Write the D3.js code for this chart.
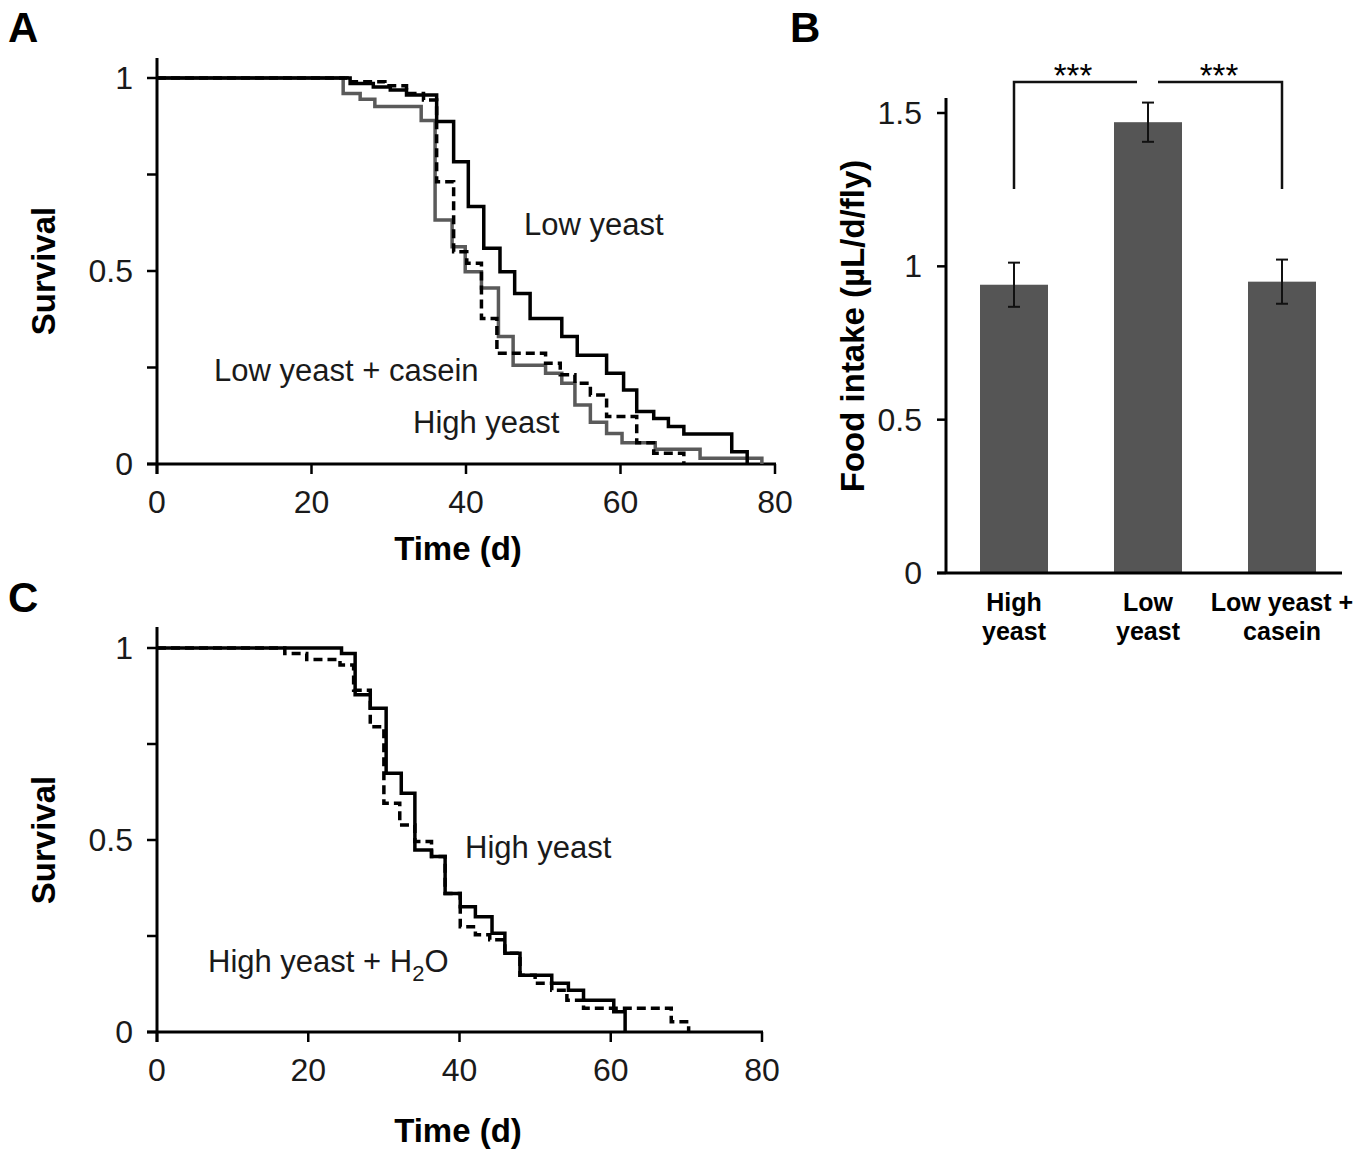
<!DOCTYPE html>
<html>
<head>
<meta charset="utf-8">
<script src="https://cdn.jsdelivr.net/npm/d3@7"></script>
<style>
  body { margin: 0; background: #fff; }
  svg text { font-family: Arial, "Liberation Sans", sans-serif; }
</style>
</head>
<body>
<svg id="fig" width="1368" height="1150"></svg>
<script>
// ---- panel A: survival, three diets (times in days, survival fraction)
var lowYeastT   = [0, 25.0, 28.0, 30.2, 32.3, 36.2, 38.4, 40.3, 42.3, 44.4, 46.3, 48.3, 52.4, 54.4, 58.2, 60.4, 62.1, 64.3, 66.2, 68.2, 74.4, 76.4];
var lowYeastS   = [1, 0.986, 0.977, 0.969, 0.956, 0.887, 0.783, 0.667, 0.559, 0.498, 0.442, 0.377, 0.33, 0.282, 0.235, 0.192, 0.136, 0.118, 0.097, 0.078, 0.032, 0];
var caseinT     = [0, 24.6, 29.5, 32.3, 34.5, 36.2, 38.4, 40.1, 42.0, 44.0, 50.3, 52.2, 54.1, 56.1, 58.2, 62.1, 64.3, 68.2];
var caseinS     = [1, 0.99, 0.98, 0.96, 0.943, 0.731, 0.55, 0.52, 0.377, 0.287, 0.261, 0.231, 0.209, 0.179, 0.123, 0.055, 0.028, 0];
var highYeastT  = [0, 24.1, 26.3, 28.2, 34.2, 36.0, 38.2, 39.9, 42.0, 44.2, 46.1, 50.3, 52.4, 54.1, 56.1, 58.2, 60.2, 64.5, 70.3, 78.3];
var highYeastS  = [1, 0.96, 0.945, 0.926, 0.89, 0.632, 0.563, 0.498, 0.456, 0.33, 0.256, 0.235, 0.209, 0.153, 0.108, 0.079, 0.055, 0.038, 0.015, 0];

// ---- panel C: high yeast with / without extra water
var hyT   = [0, 24.4, 26.2, 28.2, 30.3, 32.3, 34.1, 36.3, 38.1, 40.1, 42.1, 44.3, 46.0, 48.0, 52.2, 54.4, 56.4, 60.4, 61.9];
var hyS   = [1, 0.986, 0.878, 0.843, 0.674, 0.622, 0.474, 0.457, 0.361, 0.326, 0.30, 0.257, 0.205, 0.148, 0.127, 0.109, 0.083, 0.053, 0];
var hyH2oT = [0, 16.9, 19.8, 24.2, 26.0, 28.2, 30.0, 32.1, 34.1, 36.3, 38.1, 40.1, 42.1, 44.0, 46.0, 48.0, 50.0, 52.2, 54.2, 56.4, 68.0, 70.3];
var hyH2oS = [1, 0.986, 0.97, 0.956, 0.89, 0.795, 0.596, 0.539, 0.496, 0.457, 0.361, 0.274, 0.253, 0.24, 0.205, 0.148, 0.127, 0.109, 0.083, 0.062, 0.027, 0];

// ---- panel B: food intake
var diets     = ["High yeast", "Low yeast", "Low yeast + casein"];
var dietLines = [["High", "yeast"], ["Low", "yeast"], ["Low yeast +", "casein"]];
var intake    = [0.94, 1.47, 0.95];
var intakeErr = [0.072, 0.064, 0.072];

var survTicks   = [0, 0.5, 1];
var survMinor   = [0.25, 0.75];
var timeTicks   = [0, 20, 40, 60, 80];
var intakeTicks = [0, 0.5, 1, 1.5];

var svg = d3.select("#fig");
var black = "#000", grey = "#5a5a5a", ink = "#1a1a1a";

function pts(t, s) { return t.map(function(d, i) { return [d, s[i]]; }); }

function survivalPanel(cfg) {
  var x = d3.scaleLinear().domain([0, 80]).range(cfg.xr);
  var y = d3.scaleLinear().domain([0, 1]).range(cfg.yr);
  var g = svg.append("g");

  // axes
  g.append("line").attr("x1", x(0)).attr("x2", x(0))
    .attr("y1", cfg.top).attr("y2", y(0) + 10)
    .attr("stroke", black).attr("stroke-width", 3);
  g.append("line").attr("x1", x(0) - 10).attr("x2", x(80) + 1)
    .attr("y1", y(0)).attr("y2", y(0))
    .attr("stroke", black).attr("stroke-width", 3);
  g.selectAll(".yt").data(survTicks.concat(survMinor)).enter().append("line")
    .attr("x1", x(0) - 10).attr("x2", x(0))
    .attr("y1", function(d) { return y(d); }).attr("y2", function(d) { return y(d); })
    .attr("stroke", black).attr("stroke-width", 2.5);
  g.selectAll(".xt").data(timeTicks).enter().append("line")
    .attr("x1", function(d) { return x(d); }).attr("x2", function(d) { return x(d); })
    .attr("y1", y(0)).attr("y2", y(0) + 10)
    .attr("stroke", black).attr("stroke-width", 2.5);
  g.selectAll(".yl").data(survTicks).enter().append("text")
    .attr("x", x(0) - 24).attr("y", function(d) { return y(d) + 11; })
    .attr("text-anchor", "end").attr("font-size", 32).attr("fill", ink)
    .text(function(d) { return d; });
  g.selectAll(".xl").data(timeTicks).enter().append("text")
    .attr("x", function(d) { return x(d); }).attr("y", y(0) + 49)
    .attr("text-anchor", "middle").attr("font-size", 32).attr("fill", ink)
    .text(function(d) { return d; });
  g.append("text").attr("transform", "translate(55," + y(0.5) + ") rotate(-90)")
    .attr("text-anchor", "middle").attr("font-size", 33).attr("font-weight", "bold")
    .text("Survival");
  g.append("text").attr("x", cfg.titleX).attr("y", y(0) + cfg.titleDy)
    .attr("text-anchor", "middle").attr("font-size", 33).attr("font-weight", "bold")
    .text("Time (d)");

  var line = d3.line().x(function(d) { return x(d[0]); }).y(function(d) { return y(d[1]); })
    .curve(d3.curveStepAfter);
  cfg.series.forEach(function(s) {
    g.append("path").attr("d", line(pts(s.t, s.s)))
      .attr("fill", "none").attr("stroke", s.color).attr("stroke-width", 3.5)
      .attr("stroke-dasharray", s.dash || null);
  });
  return g;
}

function note(g, x, y, txt) {
  return g.append("text").attr("x", x).attr("y", y).attr("font-size", 31).attr("fill", ink).text(txt);
}

// panel A
var gA = survivalPanel({
  xr: [157, 775], yr: [464, 78], top: 58, titleX: 458, titleDy: 96,
  series: [
    {t: highYeastT, s: highYeastS, color: grey},
    {t: caseinT, s: caseinS, color: black, dash: "9,5"},
    {t: lowYeastT, s: lowYeastS, color: black}
  ]
});
note(gA, 524, 235, "Low yeast");
note(gA, 214, 381, "Low yeast + casein");
note(gA, 413, 433, "High yeast");

// panel C
var gC = survivalPanel({
  xr: [157, 762], yr: [1032, 648], top: 627, titleX: 458, titleDy: 110,
  series: [
    {t: hyH2oT, s: hyH2oS, color: black, dash: "9,5"},
    {t: hyT, s: hyS, color: black}
  ]
});
note(gC, 465, 858, "High yeast");
var h2o = gC.append("text").attr("x", 208).attr("y", 972).attr("font-size", 31).attr("fill", ink);
h2o.append("tspan").text("High yeast + H");
h2o.append("tspan").attr("font-size", 22).attr("dy", 9).text("2");
h2o.append("tspan").attr("dy", -9).text("O");

// panel B
var xb = d3.scalePoint().domain(diets).range([1014, 1282]);
var yb = d3.scaleLinear().domain([0, 1.5]).range([573, 113]);
var gB = svg.append("g");
var barW = 68;

gB.selectAll(".bar").data(diets).enter().append("rect")
  .attr("x", function(d) { return xb(d) - barW / 2; })
  .attr("y", function(d, i) { return yb(intake[i]); })
  .attr("width", barW)
  .attr("height", function(d, i) { return yb(0) - yb(intake[i]); })
  .attr("fill", "#555");

gB.append("line").attr("x1", 946).attr("x2", 946).attr("y1", 98).attr("y2", yb(0))
  .attr("stroke", black).attr("stroke-width", 3);
gB.append("line").attr("x1", 937).attr("x2", 1342).attr("y1", yb(0)).attr("y2", yb(0))
  .attr("stroke", black).attr("stroke-width", 3);
gB.selectAll(".yt").data(intakeTicks).enter().append("line")
  .attr("x1", 937).attr("x2", 946)
  .attr("y1", function(d) { return yb(d); }).attr("y2", function(d) { return yb(d); })
  .attr("stroke", black).attr("stroke-width", 2.5);
gB.selectAll(".yl").data(intakeTicks).enter().append("text")
  .attr("x", 922).attr("y", function(d) { return yb(d) + 11; })
  .attr("text-anchor", "end").attr("font-size", 32).attr("fill", ink)
  .text(function(d) { return d; });

// error bars
diets.forEach(function(d, i) {
  var cx = xb(d), top = yb(intake[i] + intakeErr[i]), bot = yb(intake[i] - intakeErr[i]);
  gB.append("line").attr("x1", cx).attr("x2", cx).attr("y1", top).attr("y2", bot)
    .attr("stroke", "#111").attr("stroke-width", 2);
  [top, bot].forEach(function(yy) {
    gB.append("line").attr("x1", cx - 6).attr("x2", cx + 6).attr("y1", yy).attr("y2", yy)
      .attr("stroke", "#111").attr("stroke-width", 2);
  });
});

// category labels
diets.forEach(function(d, i) {
  var t = gB.append("text").attr("x", xb(d)).attr("y", 611)
    .attr("text-anchor", "middle").attr("font-size", 25).attr("font-weight", "bold");
  dietLines[i].forEach(function(s, j) {
    t.append("tspan").attr("x", xb(d)).attr("dy", j ? 29 : 0).text(s);
  });
});

// significance brackets
gB.append("path")
  .attr("d", "M" + xb(diets[0]) + ",189V82H1137")
  .attr("fill", "none").attr("stroke", "#111").attr("stroke-width", 2.5);
gB.append("path")
  .attr("d", "M1158,82H" + xb(diets[2]) + "V189")
  .attr("fill", "none").attr("stroke", "#111").attr("stroke-width", 2.5);
gB.append("text").attr("x", 1073).attr("y", 87).attr("text-anchor", "middle").attr("font-size", 33).text("***");
gB.append("text").attr("x", 1219).attr("y", 87).attr("text-anchor", "middle").attr("font-size", 33).text("***");
gB.append("text").attr("transform", "translate(864,326) rotate(-90)")
  .attr("text-anchor", "middle").attr("font-size", 33).attr("font-weight", "bold")
  .text("Food intake (\u00b5L/d/fly)");

// panel letters
[["A", 8, 42], ["B", 790, 42], ["C", 8, 612]].forEach(function(p) {
  svg.append("text").attr("x", p[1]).attr("y", p[2]).attr("font-size", 42)
    .attr("font-weight", "bold").text(p[0]);
});
</script>
</body>
</html>
